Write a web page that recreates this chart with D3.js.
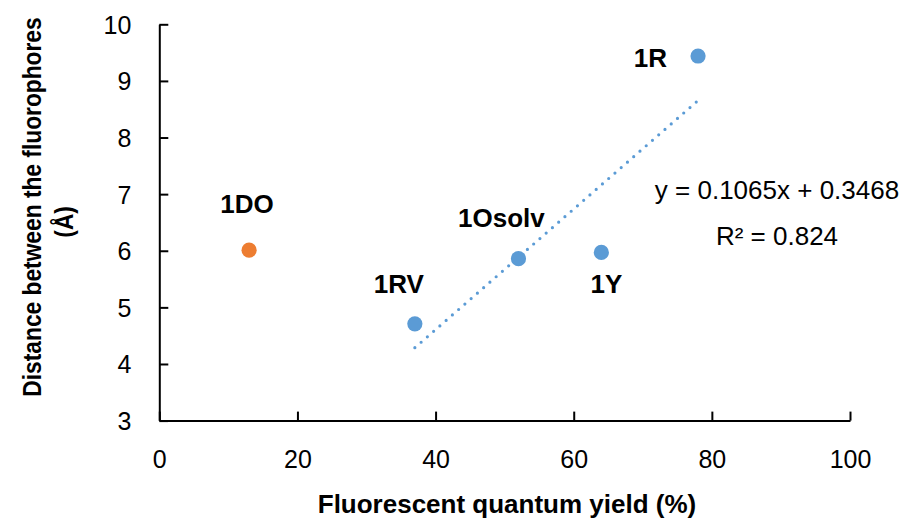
<!DOCTYPE html>
<html>
<head>
<meta charset="utf-8">
<script src="https://cdn.jsdelivr.net/npm/d3@7"></script>
<style>
  html, body { margin: 0; padding: 0; background: #fff; }
  svg { display: block; font-family: "Liberation Sans", Arial, sans-serif; }
</style>
</head>
<body>
<svg id="chart" width="905" height="523"></svg>
<script>
// ---- data ----
const names   = ["1DO", "1RV", "1Osolv", "1Y", "1R"];
const yieldPc = [13, 37, 52, 64, 78];          // fluorescent quantum yield (%)
const dist    = [6.01, 4.71, 5.86, 5.97, 9.44]; // distance (Å)
const seriesOf = ["other", "fit", "fit", "fit", "fit"];
const xTicks = [0, 20, 40, 60, 80, 100];
const yTicks = [3, 4, 5, 6, 7, 8, 9, 10];
const slope = 0.1065, intercept = 0.3468, r2 = 0.824;
const fitRange = [37, 78];

// ---- layout (not data) ----
const labelOffsets = {            // pixel offsets of label anchor from point
  "1DO":    { dx: -2,  dy: -37, anchor: "middle" },
  "1RV":    { dx: -16, dy: -31, anchor: "middle" },
  "1Osolv": { dx: -17, dy: -32, anchor: "middle" },
  "1Y":     { dx: 5,   dy: 41,  anchor: "middle" },
  "1R":     { dx: -31, dy: 11,  anchor: "end" }
};
const colors = { fit: "#5B9BD5", other: "#ED7D31" };

const svg = d3.select("#chart");
const x = d3.scaleLinear().domain([0, 100]).range([159.3, 850]);
const y = d3.scaleLinear().domain([3, 10]).range([420.6, 24.3]);

// axes
const xAxis = d3.axisBottom(x).tickValues(xTicks).tickFormat(d3.format("d"))
  .tickSize(-9).tickSizeOuter(0).tickPadding(30);
const yAxis = d3.axisLeft(y).tickValues(yTicks).tickFormat(d3.format("d"))
  .tickSize(-9).tickSizeOuter(0).tickPadding(28);

const gx = svg.append("g").attr("transform", `translate(0,${y(3)})`).call(xAxis);
const gy = svg.append("g").attr("transform", `translate(${x(0)},0)`).call(yAxis);
[gx, gy].forEach(g => {
  g.select(".domain").attr("stroke", "#000").attr("stroke-width", 2);
  g.selectAll(".tick line").attr("stroke", "#000").attr("stroke-width", 2);
  g.selectAll(".tick text").attr("fill", "#000").attr("font-size", 25)
    .attr("font-family", '"Liberation Sans", Arial, sans-serif');
});
gy.selectAll(".tick text").attr("dy", "0.36em");

// trendline
svg.append("line")
  .attr("x1", x(fitRange[0])).attr("y1", y(slope * fitRange[0] + intercept))
  .attr("x2", x(fitRange[1])).attr("y2", y(slope * fitRange[1] + intercept))
  .attr("stroke", colors.fit).attr("stroke-width", 3.2)
  .attr("stroke-linecap", "round").attr("stroke-dasharray", "0 8.3");

// points
const pts = names.map((n, i) => ({ n, xv: yieldPc[i], yv: dist[i], s: seriesOf[i] }));
svg.append("g").selectAll("circle").data(pts).join("circle")
  .attr("cx", d => x(d.xv)).attr("cy", d => y(d.yv)).attr("r", 7.6)
  .attr("fill", d => colors[d.s]);

// data labels
svg.append("g").selectAll("text").data(pts).join("text")
  .attr("x", d => x(d.xv) + labelOffsets[d.n].dx)
  .attr("y", d => y(d.yv) + labelOffsets[d.n].dy)
  .attr("text-anchor", d => labelOffsets[d.n].anchor)
  .attr("font-size", 26).attr("font-weight", "bold").attr("fill", "#000")
  .text(d => d.n);

// equation
svg.append("text").attr("x", 777).attr("y", 199).attr("text-anchor", "middle")
  .attr("font-size", 26).attr("fill", "#000")
  .text(`y = ${slope}x + ${intercept}`);
svg.append("text").attr("x", 777).attr("y", 245).attr("text-anchor", "middle")
  .attr("font-size", 26).attr("fill", "#000")
  .text(`R² = ${r2}`);

// axis titles
svg.append("text").attr("x", 507).attr("y", 513).attr("text-anchor", "middle")
  .attr("font-size", 26).attr("font-weight", "bold").attr("fill", "#000")
  .text("Fluorescent quantum yield (%)");
const yt = svg.append("text").attr("transform", "translate(41,207) rotate(-90) scale(0.99,1.12)")
  .attr("text-anchor", "middle").attr("font-size", 23).attr("font-weight", "bold").attr("fill", "#000");
yt.append("tspan").attr("x", 0).attr("y", 0)
  .text("Distance between the fluorophores");
yt.append("tspan").attr("x", -15).attr("y", 28.5).text("(Å)");
</script>
</body>
</html>
